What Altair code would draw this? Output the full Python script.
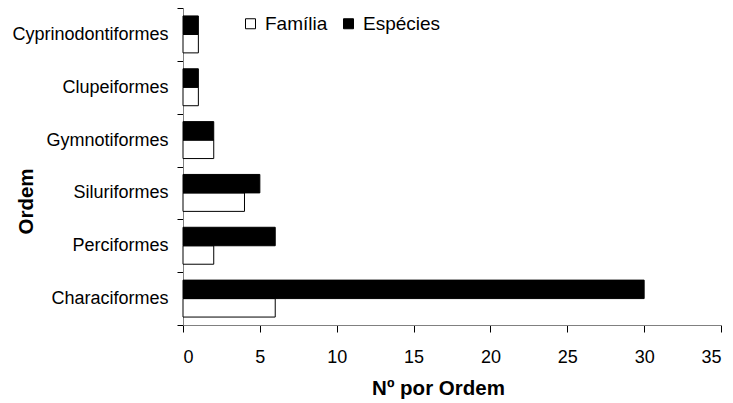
import altair as alt
import pandas as pd

# Number of families and species recorded per fish order
ordens = ["Cyprinodontiformes", "Clupeiformes", "Gymnotiformes",
          "Siluriformes", "Perciformes", "Characiformes"]
familia = [1, 1, 2, 4, 2, 6]
especies = [1, 1, 2, 5, 6, 30]

series = ["Família", "Espécies"]
x_ticks = [0, 5, 10, 15, 20, 25, 30, 35]

rows = []
for ordem, f, e in zip(ordens, familia, especies):
    rows.append({"Ordem": ordem, "Grupo": "Família", "N": f})
    rows.append({"Ordem": ordem, "Grupo": "Espécies", "N": e})
df = pd.DataFrame(rows)

FONT = "Liberation Sans"

bars = alt.Chart(df).mark_bar(stroke="black", strokeWidth=1).encode(
    x=alt.X(
        "N:Q",
        scale=alt.Scale(domain=[0, 35], nice=False, zero=True),
        axis=alt.Axis(
            title="Nº por Ordem",
            values=x_ticks,
            format="d",
            grid=False,
            tickSize=7,
            labelPadding=16,
            labelFontSize=18,
            labelBaseline="top",
            titleFontSize=20.5,
            titleFontWeight="bold",
            titleX=255,
            titleY=69,
            titleAlign="center",
            titleBaseline="alphabetic",
        ),
    ),
    y=alt.Y(
        "Ordem:N",
        sort=ordens,
        scale=alt.Scale(paddingInner=0, paddingOuter=0),
        axis=alt.Axis(
            title="Ordem",
            tickBand="extent",
            grid=False,
            tickSize=6,
            labelPadding=9,
            labelFontSize=18,
            titleFontSize=20.5,
            titleFontWeight="bold",
            titleAngle=-90,
            titleX=-157,
            titleY=193,
            titleAlign="center",
            titleBaseline="middle",
        ),
    ),
    yOffset=alt.YOffset(
        "Grupo:N",
        sort=["Espécies", "Família"],
        scale=alt.Scale(paddingInner=0, paddingOuter=0.43),
    ),
    fill=alt.Fill(
        "Grupo:N",
        scale=alt.Scale(domain=series, range=["white", "black"]),
        legend=alt.Legend(
            title=None,
            orient="none",
            legendX=58,
            legendY=6,
            direction="horizontal",
            symbolType="square",
            symbolSize=100,
            symbolStrokeColor="black",
            symbolStrokeWidth=1,
            labelFontSize=19,
            labelOffset=5,
            columnPadding=11,
        ),
    ),
)

chart = bars.properties(
    width=538,
    height=317,
    autosize=alt.AutoSizeParams(type="none"),
    padding={"left": 183, "top": 8, "right": 12, "bottom": 78},
    background="white",
).configure_view(
    stroke=None
).configure_axis(
    labelFont=FONT,
    titleFont=FONT,
    labelColor="black",
    titleColor="black",
    domainColor="#808080",
    domainWidth=1,
    tickColor="black",
    tickWidth=1,
).configure_legend(
    labelFont=FONT,
    labelColor="black",
)

chart.save("out.html", embed_options={"renderer": "svg", "actions": False})
